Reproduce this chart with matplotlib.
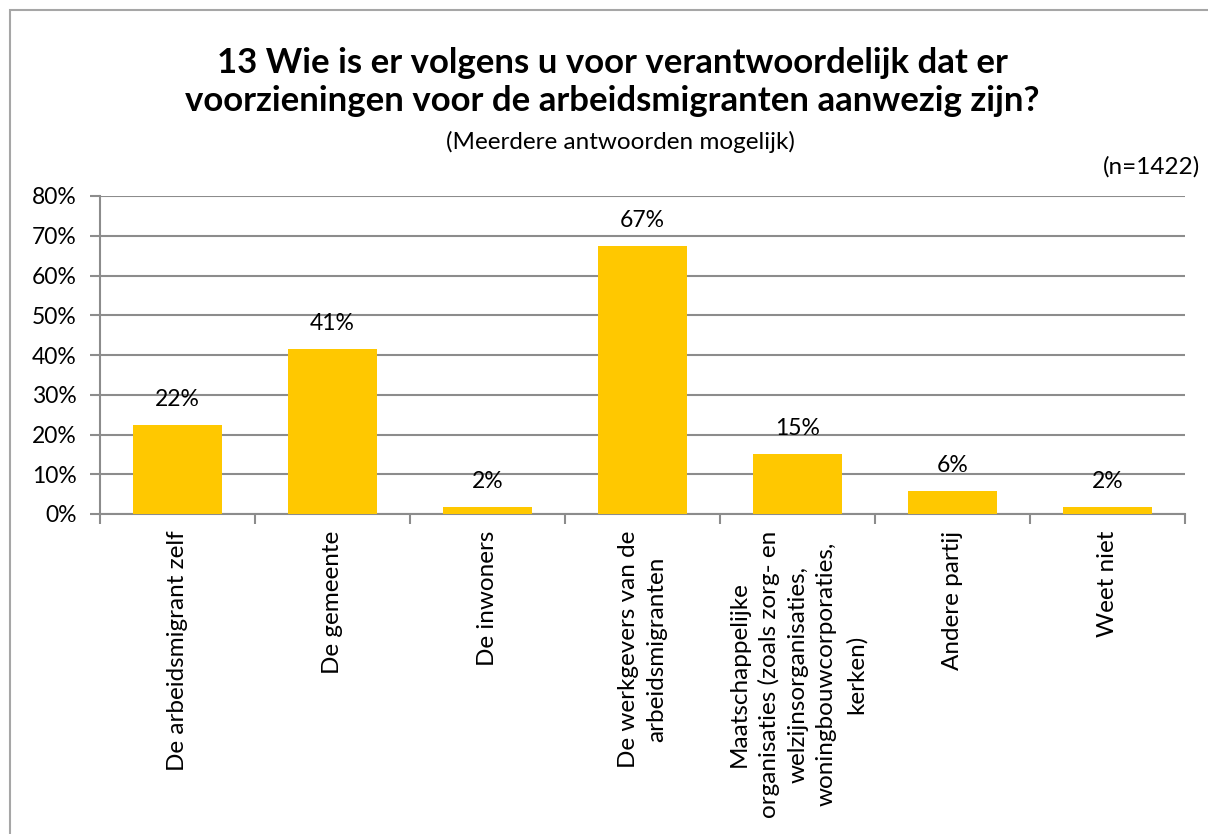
import matplotlib
matplotlib.use("Agg")
import matplotlib.pyplot as plt
from matplotlib.patches import Rectangle
import numpy as np

plt.rcParams['font.family'] = ['Lato', 'DejaVu Sans']

categories = [
    "De arbeidsmigrant zelf",
    "De gemeente",
    "De inwoners",
    "De werkgevers van de\narbeidsmigranten",
    "Maatschappelijke\norganisaties (zoals zorg- en\nwelzijnsorganisaties,\nwoningbouwcorporaties,\nkerken)",
    "Andere partij",
    "Weet niet",
]
values = [22.3, 41.4, 1.8, 67.4, 15.0, 5.7, 1.7]
value_labels = ["22%", "41%", "2%", "67%", "15%", "6%", "2%"]
yticks = [0, 10, 20, 30, 40, 50, 60, 70, 80]
ytick_labels = ["0%", "10%", "20%", "30%", "40%", "50%", "60%", "70%", "80%"]

W, H = 1208, 834
fig = plt.figure(figsize=(W / 100, H / 100), dpi=100)
ax = fig.add_axes([100 / W, 1 - 514 / H, 1085 / W, 318 / H])

grid_col = "#8c8c8c"
x = np.arange(len(categories))
ax.bar(x, values, width=0.57, color="#FFC800", zorder=3)
ax.set_xlim(-0.5, len(categories) - 0.5)
ax.set_ylim(0, 80)

ax.set_yticks(yticks)
ax.set_yticklabels(ytick_labels, fontsize=16.5)
ax.yaxis.grid(True, color=grid_col, linewidth=1.5, zorder=0)
ax.set_axisbelow(True)

ax.set_xticks(x)
ax.set_xticklabels(categories, rotation=90, fontsize=17.5, ha="center", va="top",
                   multialignment="center", linespacing=1.45)
ax.tick_params(axis="x", which="major", length=0, pad=12)
ax.set_xticks(np.arange(len(categories) + 1) - 0.5, minor=True)
ax.tick_params(axis="x", which="minor", length=7, width=1.5, color=grid_col, direction="out")
ax.tick_params(axis="y", length=7, width=1.5, color=grid_col, direction="out", pad=10)

for s in ["top", "right"]:
    ax.spines[s].set_visible(False)
for s in ["left", "bottom"]:
    ax.spines[s].set_color(grid_col)
    ax.spines[s].set_linewidth(1.5)

for xi, v, lab in zip(x, values, value_labels):
    ax.annotate(lab, (xi, v), xytext=(0, 11), textcoords="offset points",
                ha="center", va="bottom", fontsize=16.5)

fig.text(612 / W, 1 - 82 / H, "13 Wie is er volgens u voor verantwoordelijk dat er\nvoorzieningen voor de arbeidsmigranten aanwezig zijn?",
         ha="center", va="center", fontsize=25, fontweight="bold", linespacing=1.25)
fig.text(620 / W, 1 - 142 / H, "(Meerdere antwoorden mogelijk)", ha="center", va="center", fontsize=17.5)
fig.text(1200 / W, 1 - 167 / H, "(n=1422)", ha="right", va="center", fontsize=17.5)

fig.patches.append(Rectangle((10 / W, -0.05), 1.2, 1 - 10 / H + 0.05, transform=fig.transFigure,
                             fill=False, edgecolor="#a6a6a6", linewidth=1.5))

fig.savefig("out.png", dpi=100)
